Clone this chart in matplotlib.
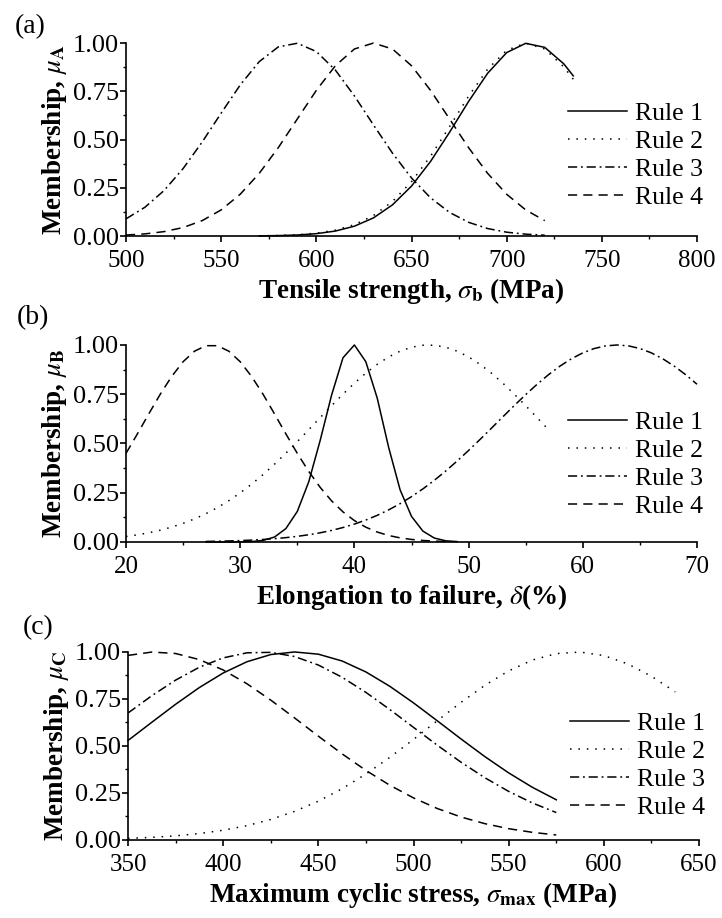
import matplotlib
matplotlib.use('Agg')
import matplotlib.pyplot as plt
from matplotlib.ticker import MultipleLocator

plt.rcParams['font.family'] = ['Liberation Serif', 'DejaVu Serif']
plt.rcParams['mathtext.fontset'] = 'stix'

rules = ['Rule 1', 'Rule 2', 'Rule 3', 'Rule 4']

# (a) tensile strength
a_x1 = [570, 580, 590, 600, 610, 620, 630, 640, 650, 660, 670, 680, 690, 700, 710, 720, 730, 735]
a_r1 = [0.0008, 0.0022, 0.0053, 0.0121, 0.0257, 0.0509, 0.0939, 0.1615, 0.2587, 0.3863, 0.5377,
        0.6976, 0.8435, 0.9506, 0.9986, 0.9777, 0.8923, 0.830]
a_r2 = [0.0011, 0.0028, 0.0066, 0.0146, 0.0303, 0.0587, 0.106, 0.179, 0.2816, 0.4136, 0.5667,
        0.7247, 0.8646, 0.9625, 1.0, 0.9693, 0.8766, 0.8123]
a_x3 = [500, 510, 520, 530, 540, 550, 560, 570, 580, 590, 600, 610, 620, 630, 640, 650, 660, 670,
        680, 690, 700, 710, 720]
a_r3 = [0.0889, 0.1494, 0.2357, 0.3495, 0.4868, 0.6368, 0.7827, 0.9037, 0.980, 0.999, 0.956, 0.860,
        0.726, 0.576, 0.4296, 0.3008, 0.1979, 0.1223, 0.071, 0.0387, 0.0198, 0.0096, 0.0043]
a_r4 = [0.0051, 0.0111, 0.0228, 0.0439, 0.0796, 0.1353, 0.2163, 0.3247, 0.4578, 0.6065, 0.7548,
        0.8825, 0.9692, 1.0, 0.9692, 0.8825, 0.7548, 0.6065, 0.4578, 0.3247, 0.2163, 0.1353, 0.0796]

# (b) elongation
b_x1 = list(range(27, 50))
b_r1 = [0.0, 0.0, 0.0, 0.001, 0.002, 0.008, 0.025, 0.068, 0.155, 0.305, 0.515, 0.745, 0.935, 1.0,
        0.915, 0.73, 0.48, 0.265, 0.13, 0.055, 0.02, 0.006, 0.002]
b_x2 = list(range(20, 58))
b_r2 = [0.0278, 0.0362, 0.0468, 0.0597, 0.0756, 0.0946, 0.1172, 0.1437, 0.1744, 0.2096, 0.2493,
        0.2935, 0.342, 0.3946, 0.4506, 0.5092, 0.5698, 0.631, 0.6917, 0.7505, 0.8061, 0.857,
        0.9018, 0.9394, 0.9686, 0.9886, 0.9987, 0.9987, 0.9886, 0.9686, 0.9394, 0.9018, 0.857,
        0.8061, 0.7505, 0.6917, 0.631, 0.5698]
b_x3 = list(range(27, 71))
b_r3 = [0.0028, 0.0039, 0.0053, 0.0072, 0.0096, 0.0128, 0.0169, 0.0221, 0.0286, 0.0367, 0.0466,
        0.0587, 0.0734, 0.0908, 0.1114, 0.1353, 0.163, 0.1945, 0.2301, 0.2696, 0.3132, 0.3605,
        0.4111, 0.4647, 0.5205, 0.5776, 0.6354, 0.6926, 0.7481, 0.8007, 0.8494, 0.8928, 0.93,
        0.96, 0.982, 0.9955, 1.0, 0.9955, 0.982, 0.96, 0.93, 0.8928, 0.8494, 0.8007]
b_x4 = list(range(20, 49))
b_r4 = [0.4498, 0.5487, 0.6507, 0.750, 0.8403, 0.915, 0.9686, 0.9964, 0.9964, 0.9686, 0.915,
        0.8403, 0.750, 0.6507, 0.5487, 0.4498, 0.3584, 0.2775, 0.2089, 0.1528, 0.1087, 0.0751,
        0.0505, 0.0329, 0.0209, 0.0129, 0.0077, 0.0045, 0.0026]

# (c) maximum cyclic stress
c_x = [350, 362.5, 375, 387.5, 400, 412.5, 425, 437.5, 450, 462.5, 475, 487.5, 500, 512.5, 525,
       537.5, 550, 562.5, 575]
c_r1 = [0.5292, 0.626, 0.7217, 0.8109, 0.8881, 0.948, 0.9862, 1.0, 0.9882, 0.9519, 0.8936, 0.8176,
        0.7291, 0.6337, 0.5369, 0.4432, 0.3567, 0.2798, 0.2138]
c_r3 = [0.6753, 0.7673, 0.8502, 0.9189, 0.9685, 0.9955, 0.998, 0.9758, 0.9304, 0.8653, 0.7848,
        0.6942, 0.5989, 0.5038, 0.4134, 0.3309, 0.2582, 0.1966, 0.1459]
c_r4 = [0.9817, 0.9995, 0.9918, 0.9593, 0.9042, 0.8308, 0.7439, 0.6492, 0.5522, 0.4579, 0.3699,
        0.2914, 0.2236, 0.1673, 0.122, 0.0867, 0.06, 0.0405, 0.0267]
c_x2 = c_x + [587.5, 600, 612.5, 625, 637.5]
c_r2 = [0.0084, 0.0138, 0.022, 0.0342, 0.0517, 0.0761, 0.109, 0.1521, 0.2065, 0.2728, 0.3509,
        0.4391, 0.535, 0.6345, 0.7323, 0.8226, 0.8994, 0.9571, 0.9913, 0.9995, 0.9807, 0.9366,
        0.8707, 0.7877]

styles = ['-', (0, (1, 4.5)), (0, (6, 2.5, 1.2, 2.5)), (0, (6, 4))]

fig = plt.figure(figsize=(7.22, 9.18), dpi=100)
ax_a = fig.add_axes([0.1745, 0.7429, 0.7909, 0.2102])
ax_b = fig.add_axes([0.1745, 0.4096, 0.7909, 0.2146])
ax_c = fig.add_axes([0.1773, 0.0850, 0.7909, 0.2048])

panels = [
    (ax_a, [(a_x1, a_r1), (a_x1, a_r2), (a_x3, a_r3), (a_x3, a_r4)], (500, 800), 50,
     r'Tensile strength, $\sigma_{\mathbf{b}}$ (MPa)', r'Membership, $\mu_{\mathbf{A}}$',
     '(a)', (-0.194, 1.15), 0.417),
    (ax_b, [(b_x1, b_r1), (b_x2, b_r2), (b_x3, b_r3), (b_x4, b_r4)], (20, 70), 10,
     r'Elongation to failure, $\delta$(%)', r'Membership, $\mu_{\mathbf{B}}$',
     '(b)', (-0.191, 1.20), 0.393),
    (ax_c, [(c_x, c_r1), (c_x2, c_r2), (c_x, c_r3), (c_x, c_r4)], (350, 650), 50,
     r'Maximum cyclic stress, $\sigma_{\mathbf{max}}$ (MPa)', r'Membership, $\mu_{\mathbf{C}}$',
     '(c)', (-0.184, 1.195), 0.396),
]

for ax, series, xlim, step, xlab, ylab, tag, tagpos, legy in panels:
    for (x, y), ls, name in zip(series, styles, rules):
        ax.plot(x, y, color='black', linestyle=ls, lw=1.1, label=name, clip_on=False)
    ax.set_xlim(xlim)
    ax.set_ylim(0, 1.0)
    ax.xaxis.set_major_locator(MultipleLocator(step))
    ax.xaxis.set_minor_locator(MultipleLocator(step / 2))
    ax.yaxis.set_major_locator(MultipleLocator(0.25))
    ax.yaxis.set_minor_locator(MultipleLocator(0.125))
    ax.yaxis.set_major_formatter(plt.FormatStrFormatter('%.2f'))
    ax.spines['top'].set_visible(False)
    ax.spines['right'].set_visible(False)
    ax.spines['left'].set_linewidth(1.2)
    ax.spines['bottom'].set_linewidth(1.2)
    ax.tick_params(which='major', direction='out', length=4, width=1.2)
    ax.tick_params(which='minor', direction='out', length=2.5, width=1.0)
    ax.tick_params(axis='x', which='major', labelsize=18, pad=6)
    ax.tick_params(axis='y', which='major', labelsize=19, pad=1)
    ax.set_xlabel(xlab, fontsize=19.5, fontweight='bold', labelpad=3)
    ax.set_ylabel(ylab, fontsize=19.5, fontweight='bold', labelpad=3)
    ax.legend(loc='center right', bbox_to_anchor=(1.01, legy), frameon=False, fontsize=18.5,
              handlelength=2.3, handletextpad=0.3, labelspacing=0.2, borderpad=0, borderaxespad=0)
    ax.text(tagpos[0], tagpos[1], tag, transform=ax.transAxes, fontsize=20, va='top', ha='left')

fig.savefig('out.png', dpi=100)
